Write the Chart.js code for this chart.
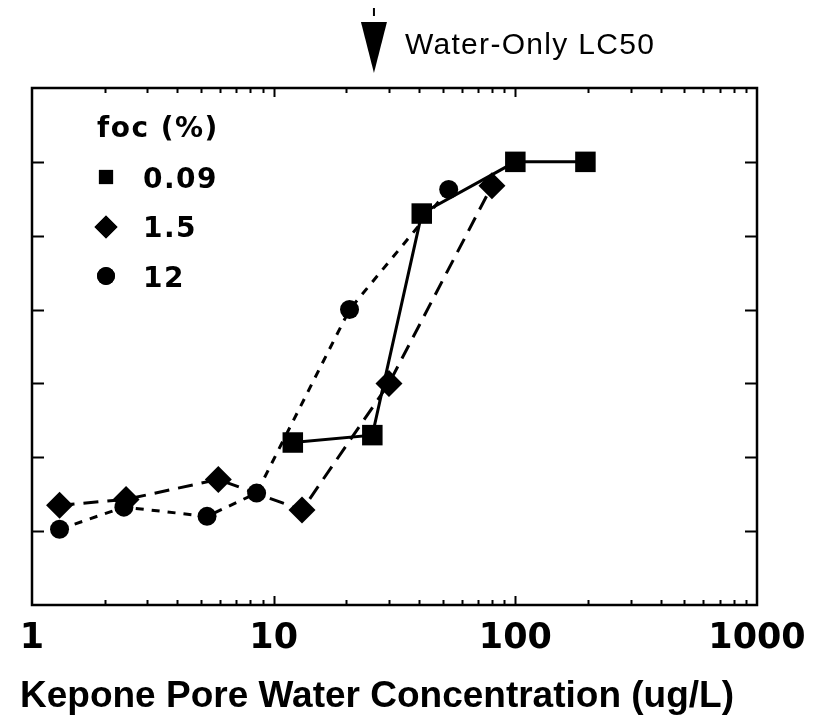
<!DOCTYPE html>
<html><head><meta charset="utf-8">
<script src="https://cdn.jsdelivr.net/npm/chart.js@4/dist/chart.umd.min.js"></script>
<style>html,body{margin:0;padding:0;background:#fff}canvas{display:block}</style>
</head><body>
<canvas id="c" width="821" height="719"></canvas>
<script>
// ---- data ----
const seriesLabels = ['0.09', '1.5', '12'];          // foc (%)
const x009 = [12, 25.6, 41, 100, 195];
const y009 = [24, 26, 86, 100, 100];
const x15  = [1.3, 2.45, 5.9, 13.1, 30, 80];
const y15  = [7, 8.6, 14, 5.7, 40, 93.5];
const x12  = [1.3, 2.4, 5.3, 8.5, 20.6, 53];
const y12  = [0.5, 6.5, 4, 10.3, 60, 92.5];
const xTickLabels = [1, 10, 100, 1000];
const yTickValues = [0, 20, 40, 60, 80, 100];
const lc50 = 26;
const legendTitle = 'foc (%)';
const xTitle = 'Kepone Pore Water Concentration (ug/L)';
const annotationText = 'Water-Only LC50';

const toPts = (xs, ys) => xs.map((x, i) => ({x: x, y: ys[i]}));

const framePlugin = {
  id: 'frame',
  afterDraw(chart) {
    const ctx = chart.ctx;
    const {left, right, top, bottom} = chart.chartArea;
    const xs = chart.scales.x, ys = chart.scales.y;
    ctx.save();
    ctx.strokeStyle = '#000';
    ctx.lineWidth = 2.5;
    ctx.strokeRect(left, top, right - left, bottom - top);
    // inward log ticks top & bottom
    ctx.lineWidth = 2;
    [1, 10, 100].forEach(d => {
      for (let m = 1; m <= 9; m++) {
        const v = m * d;
        if (v <= 1) continue;
        const px = Math.round(xs.getPixelForValue(v)) + 0.5;
        const len = (m === 1) ? 9 : 5;
        ctx.beginPath();
        ctx.moveTo(px, bottom); ctx.lineTo(px, bottom - len);
        ctx.moveTo(px, top); ctx.lineTo(px, top + len);
        ctx.stroke();
      }
    });
    // inward y ticks left & right
    yTickValues.forEach(v => {
      const py = Math.round(ys.getPixelForValue(v)) + 0.5;
      ctx.beginPath();
      ctx.moveTo(left, py); ctx.lineTo(left + 12, py);
      ctx.moveTo(right, py); ctx.lineTo(right - 12, py);
      ctx.stroke();
    });
    // legend
    ctx.fillStyle = '#000';
    ctx.font = 'bold 28px "DejaVu Sans"';
    ctx.letterSpacing = '1.5px';
    ctx.textBaseline = 'alphabetic';
    ctx.textAlign = 'left';
    ctx.fillText(legendTitle, 97, 137);
    const legY = [177, 227, 276];
    const legBase = [188, 237, 287];
    const legR = [10, 11.5, 9];
    chart.data.datasets.forEach((ds, i) => {
      Chart.helpers.drawPoint(ctx, {pointStyle: ds.pointStyle, radius: legR[i], borderWidth: 0}, 106, legY[i]);
      ctx.fill();
      ctx.fillText(seriesLabels[i], 143, legBase[i]);
    });
    // annotation arrow
    const ax = xs.getPixelForValue(lc50);
    ctx.beginPath();
    ctx.moveTo(ax - 13, 22); ctx.lineTo(ax + 13, 22); ctx.lineTo(ax, 73); ctx.closePath();
    ctx.fill();
    ctx.lineWidth = 2;
    ctx.beginPath(); ctx.moveTo(ax, 8); ctx.lineTo(ax, 16); ctx.stroke();
    ctx.font = '30px "Liberation Sans", Arial';
    ctx.letterSpacing = '1.3px';
    ctx.fillText(annotationText, 405, 54);
    // axis title
    ctx.font = 'bold 37px "Liberation Sans", Arial';
    ctx.letterSpacing = '0px';
    ctx.textAlign = 'center';
    ctx.fillText(xTitle, 377, 707);
    ctx.restore();
  }
};

new Chart(document.getElementById('c'), {
  type: 'scatter',
  data: {
    datasets: [
      {label: seriesLabels[0], data: toPts(x009, y009), showLine: true,
       borderColor: '#000', backgroundColor: '#000', borderWidth: 3,
       pointStyle: 'rect', pointRadius: 14.5, pointBorderWidth: 0},
      {label: seriesLabels[1], data: toPts(x15, y15), showLine: true,
       borderColor: '#000', backgroundColor: '#000', borderWidth: 3, borderDash: [15, 9],
       pointStyle: 'rectRot', pointRadius: 13.5, pointBorderWidth: 0},
      {label: seriesLabels[2], data: toPts(x12, y12), showLine: true,
       borderColor: '#000', backgroundColor: '#000', borderWidth: 3, borderDash: [8, 8],
       pointStyle: 'circle', pointRadius: 9.5, pointBorderWidth: 0}
    ]
  },
  options: {
    responsive: false,
    animation: false,
    layout: {padding: {left: 32, right: 64, top: 88, bottom: 0}},
    plugins: {legend: {display: false}, tooltip: {enabled: false}},
    scales: {
      x: {
        type: 'logarithmic', min: 1, max: 1000, position: 'bottom',
        grid: {display: false, drawTicks: false},
        border: {display: false},
        afterBuildTicks: s => { s.ticks = xTickLabels.map(v => ({value: v})); },
        ticks: {autoSkip: false, maxRotation: 0, padding: 13, color: '#000',
                font: {family: 'DejaVu Sans', weight: 'bold', size: 35},
                callback: v => String(v)},
        afterFit: s => { s.height = 114; }
      },
      y: {min: -20, max: 120, display: false}
    }
  },
  plugins: [framePlugin]
});
</script>
</body></html>
